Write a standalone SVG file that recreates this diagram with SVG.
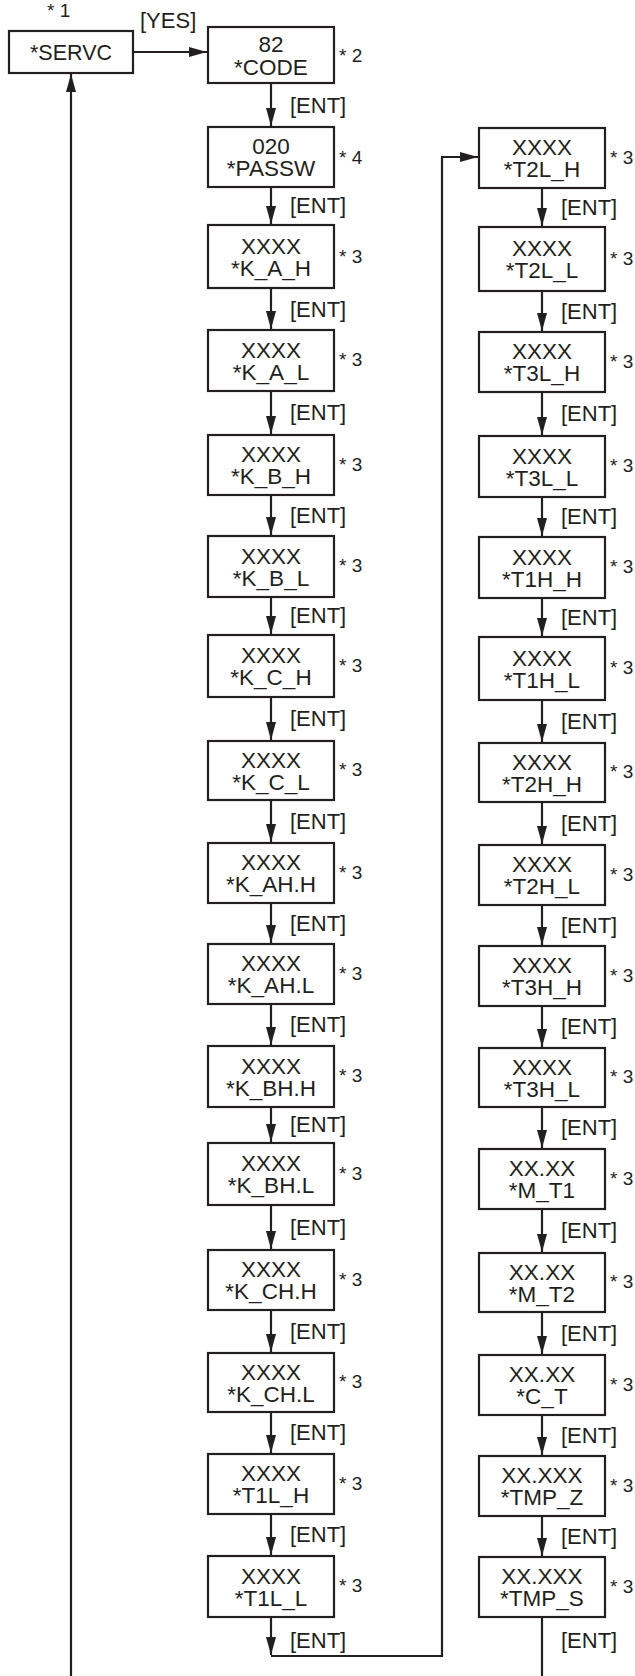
<svg xmlns="http://www.w3.org/2000/svg" width="635" height="1676" viewBox="0 0 635 1676">
<style>
.box{fill:#fff;stroke:#231f20;stroke-width:2.2}
.t{font-family:"Liberation Sans",Arial,sans-serif;font-size:22.5px;fill:#231f20;text-anchor:middle}
.n{font-family:"Liberation Sans",Arial,sans-serif;font-size:19px;fill:#231f20}
.e{font-family:"Liberation Sans",Arial,sans-serif;font-size:22px;fill:#231f20}
.c{fill:none;stroke:#231f20;stroke-width:2.2}
</style>
<defs>
<marker id="ah" viewBox="0 0 18 10" markerWidth="18" markerHeight="10" refX="18" refY="5" orient="auto" markerUnits="userSpaceOnUse">
<path d="M0,0 L18,5 L0,10 z" fill="#231f20"/>
</marker>
</defs>
<rect width="635" height="1676" fill="#fff"/>
<g id="connectors">
<line class="c" x1="133" y1="52" x2="207" y2="52" marker-end="url(#ah)"/>
<line class="c" x1="71" y1="1676" x2="71" y2="74" marker-end="url(#ah)"/>
<line class="c" x1="271" y1="83" x2="271" y2="126" marker-end="url(#ah)"/>
<line class="c" x1="271" y1="187" x2="271" y2="224" marker-end="url(#ah)"/>
<line class="c" x1="271" y1="288" x2="271" y2="329" marker-end="url(#ah)"/>
<line class="c" x1="271" y1="391" x2="271" y2="434" marker-end="url(#ah)"/>
<line class="c" x1="271" y1="495" x2="271" y2="535" marker-end="url(#ah)"/>
<line class="c" x1="271" y1="597" x2="271" y2="634" marker-end="url(#ah)"/>
<line class="c" x1="271" y1="697" x2="271" y2="740" marker-end="url(#ah)"/>
<line class="c" x1="271" y1="800" x2="271" y2="842" marker-end="url(#ah)"/>
<line class="c" x1="271" y1="903" x2="271" y2="943" marker-end="url(#ah)"/>
<line class="c" x1="271" y1="1004" x2="271" y2="1045" marker-end="url(#ah)"/>
<line class="c" x1="271" y1="1107" x2="271" y2="1142" marker-end="url(#ah)"/>
<line class="c" x1="271" y1="1205" x2="271" y2="1249" marker-end="url(#ah)"/>
<line class="c" x1="271" y1="1310" x2="271" y2="1352" marker-end="url(#ah)"/>
<line class="c" x1="271" y1="1412" x2="271" y2="1453" marker-end="url(#ah)"/>
<line class="c" x1="271" y1="1514" x2="271" y2="1555" marker-end="url(#ah)"/>
<line class="c" x1="271" y1="1617" x2="271" y2="1655" marker-end="url(#ah)"/>
<path class="c" d="M271,1656 H442 V157 H478" marker-end="url(#ah)"/>
<line class="c" x1="542" y1="188" x2="542" y2="226" marker-end="url(#ah)"/>
<line class="c" x1="542" y1="291" x2="542" y2="331" marker-end="url(#ah)"/>
<line class="c" x1="542" y1="392" x2="542" y2="435" marker-end="url(#ah)"/>
<line class="c" x1="542" y1="497" x2="542" y2="536" marker-end="url(#ah)"/>
<line class="c" x1="542" y1="598" x2="542" y2="636" marker-end="url(#ah)"/>
<line class="c" x1="542" y1="700" x2="542" y2="742" marker-end="url(#ah)"/>
<line class="c" x1="542" y1="802" x2="542" y2="844" marker-end="url(#ah)"/>
<line class="c" x1="542" y1="905" x2="542" y2="945" marker-end="url(#ah)"/>
<line class="c" x1="542" y1="1006" x2="542" y2="1047" marker-end="url(#ah)"/>
<line class="c" x1="542" y1="1107" x2="542" y2="1148" marker-end="url(#ah)"/>
<line class="c" x1="542" y1="1209" x2="542" y2="1252" marker-end="url(#ah)"/>
<line class="c" x1="542" y1="1312" x2="542" y2="1354" marker-end="url(#ah)"/>
<line class="c" x1="542" y1="1415" x2="542" y2="1455" marker-end="url(#ah)"/>
<line class="c" x1="542" y1="1516" x2="542" y2="1556" marker-end="url(#ah)"/>
<line class="c" x1="542" y1="1617" x2="542" y2="1676"/>
<text class="e" x="140" y="28">[YES]</text>
<text class="e" x="290" y="113">[ENT]</text>
<text class="e" x="290" y="213">[ENT]</text>
<text class="e" x="290" y="317">[ENT]</text>
<text class="e" x="290" y="420">[ENT]</text>
<text class="e" x="290" y="523">[ENT]</text>
<text class="e" x="290" y="623">[ENT]</text>
<text class="e" x="290" y="726">[ENT]</text>
<text class="e" x="290" y="829">[ENT]</text>
<text class="e" x="290" y="931">[ENT]</text>
<text class="e" x="290" y="1032">[ENT]</text>
<text class="e" x="290" y="1132">[ENT]</text>
<text class="e" x="290" y="1235">[ENT]</text>
<text class="e" x="290" y="1339">[ENT]</text>
<text class="e" x="290" y="1440">[ENT]</text>
<text class="e" x="290" y="1542">[ENT]</text>
<text class="e" x="290" y="1648">[ENT]</text>
<text class="e" x="561" y="215">[ENT]</text>
<text class="e" x="561" y="319">[ENT]</text>
<text class="e" x="561" y="421">[ENT]</text>
<text class="e" x="561" y="524">[ENT]</text>
<text class="e" x="561" y="625">[ENT]</text>
<text class="e" x="561" y="729">[ENT]</text>
<text class="e" x="561" y="831">[ENT]</text>
<text class="e" x="561" y="933">[ENT]</text>
<text class="e" x="561" y="1034">[ENT]</text>
<text class="e" x="561" y="1135">[ENT]</text>
<text class="e" x="561" y="1238">[ENT]</text>
<text class="e" x="561" y="1341">[ENT]</text>
<text class="e" x="561" y="1443">[ENT]</text>
<text class="e" x="561" y="1544">[ENT]</text>
<text class="e" x="561" y="1648">[ENT]</text>
</g>
<g id="servc"><rect class="box" x="9" y="31" width="124" height="42"/><text class="t" x="71" y="59.5" style="font-size:21.5px">*SERVC</text><text class="n" x="47" y="17">* 1</text></g>
<g id="code"><rect class="box" x="208" y="27" width="126" height="56"/><text class="t" x="271" y="52">82</text><text class="t" x="271" y="75">*CODE</text><text class="n" x="339" y="62">* 2</text></g>
<g id="passw"><rect class="box" x="208" y="127" width="126" height="60"/><text class="t" x="271" y="154">020</text><text class="t" x="271" y="176">*PASSW</text><text class="n" x="339" y="164">* 4</text></g>
<g id="k_a_h"><rect class="box" x="208" y="225" width="126" height="63"/><text class="t" x="271" y="253.5">XXXX</text><text class="t" x="271" y="275.5">*K_A_H</text><text class="n" x="339" y="263">* 3</text></g>
<g id="k_a_l"><rect class="box" x="208" y="330" width="126" height="61"/><text class="t" x="271" y="357.5">XXXX</text><text class="t" x="271" y="379.5">*K_A_L</text><text class="n" x="339" y="366">* 3</text></g>
<g id="k_b_h"><rect class="box" x="208" y="435" width="126" height="60"/><text class="t" x="271" y="462">XXXX</text><text class="t" x="271" y="484">*K_B_H</text><text class="n" x="339" y="471">* 3</text></g>
<g id="k_b_l"><rect class="box" x="208" y="536" width="126" height="61"/><text class="t" x="271" y="563.5">XXXX</text><text class="t" x="271" y="585.5">*K_B_L</text><text class="n" x="339" y="572">* 3</text></g>
<g id="k_c_h"><rect class="box" x="208" y="635" width="126" height="62"/><text class="t" x="271" y="663">XXXX</text><text class="t" x="271" y="685">*K_C_H</text><text class="n" x="339" y="672">* 3</text></g>
<g id="k_c_l"><rect class="box" x="208" y="741" width="126" height="59"/><text class="t" x="271" y="767.5">XXXX</text><text class="t" x="271" y="789.5">*K_C_L</text><text class="n" x="339" y="776">* 3</text></g>
<g id="k_ah_h"><rect class="box" x="208" y="843" width="126" height="60"/><text class="t" x="271" y="870">XXXX</text><text class="t" x="271" y="892">*K_AH.H</text><text class="n" x="339" y="879">* 3</text></g>
<g id="k_ah_l"><rect class="box" x="208" y="944" width="126" height="60"/><text class="t" x="271" y="971">XXXX</text><text class="t" x="271" y="993">*K_AH.L</text><text class="n" x="339" y="980">* 3</text></g>
<g id="k_bh_h"><rect class="box" x="208" y="1046" width="126" height="61"/><text class="t" x="271" y="1073.5">XXXX</text><text class="t" x="271" y="1095.5">*K_BH.H</text><text class="n" x="339" y="1082">* 3</text></g>
<g id="k_bh_l"><rect class="box" x="208" y="1143" width="126" height="62"/><text class="t" x="271" y="1171">XXXX</text><text class="t" x="271" y="1193">*K_BH.L</text><text class="n" x="339" y="1180">* 3</text></g>
<g id="k_ch_h"><rect class="box" x="208" y="1250" width="126" height="60"/><text class="t" x="271" y="1277">XXXX</text><text class="t" x="271" y="1299">*K_CH.H</text><text class="n" x="339" y="1286">* 3</text></g>
<g id="k_ch_l"><rect class="box" x="208" y="1353" width="126" height="59"/><text class="t" x="271" y="1379.5">XXXX</text><text class="t" x="271" y="1401.5">*K_CH.L</text><text class="n" x="339" y="1388">* 3</text></g>
<g id="t1l_h"><rect class="box" x="208" y="1454" width="126" height="60"/><text class="t" x="271" y="1481">XXXX</text><text class="t" x="271" y="1503">*T1L_H</text><text class="n" x="339" y="1490">* 3</text></g>
<g id="t1l_l"><rect class="box" x="208" y="1556" width="126" height="61"/><text class="t" x="271" y="1583.5">XXXX</text><text class="t" x="271" y="1605.5">*T1L_L</text><text class="n" x="339" y="1592">* 3</text></g>
<g id="t2l_h"><rect class="box" x="479" y="128" width="126" height="60"/><text class="t" x="542" y="155">XXXX</text><text class="t" x="542" y="177">*T2L_H</text><text class="n" x="610" y="164">* 3</text></g>
<g id="t2l_l"><rect class="box" x="479" y="227" width="126" height="64"/><text class="t" x="542" y="256">XXXX</text><text class="t" x="542" y="278">*T2L_L</text><text class="n" x="610" y="265">* 3</text></g>
<g id="t3l_h"><rect class="box" x="479" y="332" width="126" height="60"/><text class="t" x="542" y="359">XXXX</text><text class="t" x="542" y="381">*T3L_H</text><text class="n" x="610" y="368">* 3</text></g>
<g id="t3l_l"><rect class="box" x="479" y="436" width="126" height="61"/><text class="t" x="542" y="463.5">XXXX</text><text class="t" x="542" y="485.5">*T3L_L</text><text class="n" x="610" y="472">* 3</text></g>
<g id="t1h_h"><rect class="box" x="479" y="537" width="126" height="61"/><text class="t" x="542" y="564.5">XXXX</text><text class="t" x="542" y="586.5">*T1H_H</text><text class="n" x="610" y="573">* 3</text></g>
<g id="t1h_l"><rect class="box" x="479" y="637" width="126" height="63"/><text class="t" x="542" y="665.5">XXXX</text><text class="t" x="542" y="687.5">*T1H_L</text><text class="n" x="610" y="674">* 3</text></g>
<g id="t2h_h"><rect class="box" x="479" y="743" width="126" height="59"/><text class="t" x="542" y="769.5">XXXX</text><text class="t" x="542" y="791.5">*T2H_H</text><text class="n" x="610" y="778">* 3</text></g>
<g id="t2h_l"><rect class="box" x="479" y="845" width="126" height="60"/><text class="t" x="542" y="872">XXXX</text><text class="t" x="542" y="894">*T2H_L</text><text class="n" x="610" y="881">* 3</text></g>
<g id="t3h_h"><rect class="box" x="479" y="946" width="126" height="60"/><text class="t" x="542" y="973">XXXX</text><text class="t" x="542" y="995">*T3H_H</text><text class="n" x="610" y="982">* 3</text></g>
<g id="t3h_l"><rect class="box" x="479" y="1048" width="126" height="59"/><text class="t" x="542" y="1074.5">XXXX</text><text class="t" x="542" y="1096.5">*T3H_L</text><text class="n" x="610" y="1083">* 3</text></g>
<g id="m_t1"><rect class="box" x="479" y="1149" width="126" height="60"/><text class="t" x="542" y="1176">XX.XX</text><text class="t" x="542" y="1198">*M_T1</text><text class="n" x="610" y="1185">* 3</text></g>
<g id="m_t2"><rect class="box" x="479" y="1253" width="126" height="59"/><text class="t" x="542" y="1279.5">XX.XX</text><text class="t" x="542" y="1301.5">*M_T2</text><text class="n" x="610" y="1288">* 3</text></g>
<g id="c_t"><rect class="box" x="479" y="1355" width="126" height="60"/><text class="t" x="542" y="1382">XX.XX</text><text class="t" x="542" y="1404">*C_T</text><text class="n" x="610" y="1391">* 3</text></g>
<g id="tmp_z"><rect class="box" x="479" y="1456" width="126" height="60"/><text class="t" x="542" y="1483">XX.XXX</text><text class="t" x="542" y="1505">*TMP_Z</text><text class="n" x="610" y="1492">* 3</text></g>
<g id="tmp_s"><rect class="box" x="479" y="1557" width="126" height="60"/><text class="t" x="542" y="1584">XX.XXX</text><text class="t" x="542" y="1606">*TMP_S</text><text class="n" x="610" y="1593">* 3</text></g>
</svg>
